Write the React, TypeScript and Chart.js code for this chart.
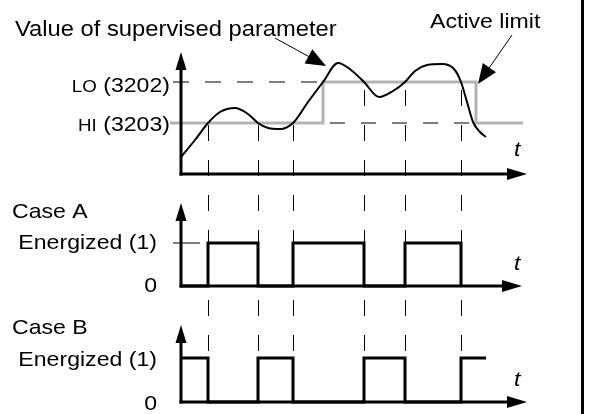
import React, { useEffect, useRef } from "react";
import { Chart, registerables } from "chart.js";

Chart.register(...registerables);

// ---------- data (time in arbitrary units, 0 = origin of the time axes) ----------
const HI_LIMIT = 5.1; // parameter 3203
const LO_LIMIT = 9.2; // parameter 3202

// value of the supervised parameter
const paramT = [0, 1.4, 2.7, 3.9, 5.4, 6.7, 7.7, 8.7, 9.9, 11.2, 12.7, 14.2, 15.7, 17.0, 18.3, 19.8, 21.2, 22.4, 23.4, 24.6, 26.1, 27.3, 28.0, 28.6, 29.2, 29.9, 30.5];
const paramV = [1.7, 3.4, 5.1, 6.2, 6.6, 6.0, 5.1, 4.6, 4.5, 5.1, 7.2, 9.2, 11.1, 10.4, 9.2, 7.7, 8.3, 9.2, 10.3, 10.9, 11.0, 10.5, 9.2, 7.2, 5.2, 4.2, 3.7];

// active limit (grey)
const limitT = [-1.1, 14.2, 14.2, 29.5, 29.5, 34.2];
const limitV = [HI_LIMIT, HI_LIMIT, LO_LIMIT, LO_LIMIT, HI_LIMIT, HI_LIMIT];

// inactive limit (dashed)
const loDashT = [-0.8, 14.2];
const hiDashT = [14.2, 29.5];

// instants where the relay output changes
const switchT = [2.7, 7.7, 11.2, 18.3, 22.4, 28.0];

// relay output, case A and case B (0 / 1)
const caseAT = [0, 2.7, 7.7, 11.2, 18.3, 22.4, 28.0];
const caseAV = [0, 1, 0, 1, 0, 1, 0];
const caseBT = [0, 2.7, 7.7, 11.2, 18.3, 22.4, 28.0, 30.5];
const caseBV = [1, 0, 1, 0, 1, 0, 1, 1];
const caseAMarkT = [-0.8, 1.9];

// axis extents
const topAxisEnd = { t: 34.6, v: 12.2 };
const caseAAxisEnd = { t: 34.1, v: 1.93 };
const caseBAxisEnd = { t: 34.6, v: 1.75 };

// call-out arrows
const valueArrow = { from: [9.4, 13.6], to: [14.5, 10.8] };
const limitArrow = { from: [33.1, 13.9], to: [29.7, 9.0] };

// ---------- helpers ----------
const FONT = '"Liberation Sans", Arial, Helvetica, sans-serif';
const SX = 1.1;

const pts = (xs: number[], ys: number[]) => xs.map((x, i) => ({ x, y: ys[i] }));

function drawText(ctx: CanvasRenderingContext2D, s: string, x: number, y: number, size: number, align: CanvasTextAlign, italic = false) {
  ctx.save();
  ctx.font = `${italic ? "italic " : ""}${size}px ${FONT}`;
  ctx.fillStyle = "#000";
  ctx.textAlign = align;
  ctx.textBaseline = "alphabetic";
  ctx.translate(x, y);
  ctx.scale(SX, 1);
  ctx.fillText(s, 0, 0);
  ctx.restore();
}
function textW(ctx: CanvasRenderingContext2D, s: string, size: number) {
  ctx.save();
  ctx.font = `${size}px ${FONT}`;
  const w = ctx.measureText(s).width * SX;
  ctx.restore();
  return w;
}
function arrow(ctx: CanvasRenderingContext2D, x0: number, y0: number, x1: number, y1: number, width: number, len: number, half: number) {
  const a = Math.atan2(y1 - y0, x1 - x0);
  const bx = x1 - len * Math.cos(a);
  const by = y1 - len * Math.sin(a);
  const px = -Math.sin(a) * half;
  const py = Math.cos(a) * half;
  ctx.save();
  ctx.strokeStyle = "#000";
  ctx.fillStyle = "#000";
  ctx.lineWidth = width;
  ctx.lineCap = "butt";
  ctx.beginPath();
  ctx.moveTo(x0, y0);
  ctx.lineTo(bx + Math.cos(a), by + Math.sin(a));
  ctx.stroke();
  ctx.beginPath();
  ctx.moveTo(x1, y1);
  ctx.lineTo(bx + px, by + py);
  ctx.lineTo(bx - px, by - py);
  ctx.closePath();
  ctx.fill();
  ctx.restore();
}
function activeLimitAt(t: number) {
  let v = limitV[0];
  for (let i = 0; i < limitT.length; i++) if (limitT[i] <= t) v = limitV[i];
  return v;
}

const diagramPlugin = {
  id: "diagram",
  beforeDatasetsDraw(chart: any) {
    const ctx: CanvasRenderingContext2D = chart.ctx;
    const x = chart.scales.x, yv = chart.scales.yv, yb = chart.scales.yb;
    ctx.save();
    ctx.strokeStyle = "#000";
    ctx.lineWidth = 1;
    ctx.setLineDash([16, 19]);
    ctx.lineDashOffset = 28;
    switchT.forEach((t) => {
      const px = Math.round(x.getPixelForValue(t)) + 0.5;
      ctx.beginPath();
      ctx.moveTo(px, yb.getPixelForValue(1));
      ctx.lineTo(px, yv.getPixelForValue(activeLimitAt(t)));
      ctx.stroke();
    });
    ctx.restore();
  },
  afterDatasetsDraw(chart: any) {
    const ctx: CanvasRenderingContext2D = chart.ctx;
    const x = chart.scales.x;
    const panels = [
      { s: chart.scales.yv, end: topAxisEnd },
      { s: chart.scales.ya, end: caseAAxisEnd },
      { s: chart.scales.yb, end: caseBAxisEnd },
    ];
    panels.forEach(({ s, end }) => {
      const ox = x.getPixelForValue(0);
      const oy = s.getPixelForValue(0);
      arrow(ctx, ox, oy + 1.5, ox, s.getPixelForValue(end.v), 3, 18, 5.5);
      arrow(ctx, ox - 1.5, oy, x.getPixelForValue(end.t), oy, 3, 20, 6);
    });

    const yv = chart.scales.yv, ya = chart.scales.ya, yb = chart.scales.yb;
    // call-outs
    arrow(ctx, x.getPixelForValue(valueArrow.from[0]), yv.getPixelForValue(valueArrow.from[1]), x.getPixelForValue(valueArrow.to[0]), yv.getPixelForValue(valueArrow.to[1]), 1, 20, 8);
    arrow(ctx, x.getPixelForValue(limitArrow.from[0]), yv.getPixelForValue(limitArrow.from[1]), x.getPixelForValue(limitArrow.to[0]), yv.getPixelForValue(limitArrow.to[1]), 1, 20, 8);

    // texts
    drawText(ctx, "Value of supervised parameter", 15, 36, 21.6, "left");
    drawText(ctx, "Active limit", 430, 28, 21, "left");

    const rx = x.getPixelForValue(-1.1);
    const loY = yv.getPixelForValue(LO_LIMIT) + 10;
    const hiY = yv.getPixelForValue(HI_LIMIT) + 8;
    const w1 = textW(ctx, " (3202)", 21);
    drawText(ctx, " (3202)", rx, loY, 21, "right");
    drawText(ctx, "LO", rx - w1, loY, 17, "right");
    const w2 = textW(ctx, " (3203)", 21);
    drawText(ctx, " (3203)", rx, hiY, 21, "right");
    drawText(ctx, "HI", rx - w2, hiY, 17, "right");

    const lx = x.getPixelForValue(-2.4);
    drawText(ctx, "Case A", 12, ya.getPixelForValue(1) - 25, 21, "left");
    drawText(ctx, "Energized (1)", lx, ya.getPixelForValue(1) + 6, 21, "right");
    drawText(ctx, "0", lx, ya.getPixelForValue(0) + 6, 21, "right");
    drawText(ctx, "Case B", 12, yb.getPixelForValue(1) - 24, 21, "left");
    drawText(ctx, "Energized (1)", lx, yb.getPixelForValue(1) + 8, 21, "right");
    drawText(ctx, "0", lx, yb.getPixelForValue(0) + 8, 21, "right");

    const tx = x.getPixelForValue(33.3);
    drawText(ctx, "t", tx, yv.getPixelForValue(0) - 18, 21, "left", true);
    drawText(ctx, "t", tx, ya.getPixelForValue(0) - 16, 21, "left", true);
    drawText(ctx, "t", tx, yb.getPixelForValue(0) - 16, 21, "left", true);

    // right frame line
    ctx.save();
    ctx.fillStyle = "#000";
    ctx.fillRect(chart.width - 8, 0, 3, chart.height);
    ctx.restore();
  },
};

export default function App() {
  const ref = useRef<HTMLCanvasElement>(null);
  useEffect(() => {
    const chart = new Chart(ref.current as HTMLCanvasElement, {
      type: "line",
      data: {
        datasets: [
          { data: pts(paramT, paramV), yAxisID: "yv", borderColor: "#000", borderWidth: 2, cubicInterpolationMode: "monotone", pointRadius: 0 },
          { data: pts(limitT, limitV), yAxisID: "yv", borderColor: "#b3b3b3", borderWidth: 3, tension: 0, pointRadius: 0, borderJoinStyle: "miter" },
          { data: pts(loDashT, [LO_LIMIT, LO_LIMIT]), yAxisID: "yv", borderColor: "#000", borderWidth: 1, borderDash: [16, 16], pointRadius: 0 },
          { data: pts(hiDashT, [HI_LIMIT, HI_LIMIT]), yAxisID: "yv", borderColor: "#000", borderWidth: 1, borderDash: [15, 16], borderDashOffset: 24, pointRadius: 0 },
          { data: pts(caseAT, caseAV), yAxisID: "ya", borderColor: "#000", borderWidth: 3, stepped: true, pointRadius: 0, borderJoinStyle: "miter" },
          { data: pts(caseAMarkT, [1, 1]), yAxisID: "ya", borderColor: "#000", borderWidth: 1, pointRadius: 0 },
          { data: pts(caseBT, caseBV), yAxisID: "yb", borderColor: "#000", borderWidth: 3, stepped: true, pointRadius: 0, borderJoinStyle: "miter" },
        ] as any,
      },
      options: {
        animation: false,
        responsive: false,
        events: [],
        layout: { padding: 0 },
        plugins: { legend: { display: false }, tooltip: { enabled: false }, title: { display: false } },
        scales: {
          x: { type: "linear", display: false, min: -18.1, max: 40.8 },
          yv: { type: "linear", display: false, min: -24, max: 17.4 },
          ya: { type: "linear", display: false, min: -2.977, max: 6.651 },
          yb: { type: "linear", display: false, min: -0.273, max: 9.136 },
        },
      } as any,
      plugins: [diagramPlugin],
    });
    return () => chart.destroy();
  }, []);
  return (
    <div style={{ position: "fixed", left: 0, top: 0, width: 589, height: 414, background: "#fff" }}>
      <canvas ref={ref} width={589} height={414} style={{ display: "block", width: 589, height: 414 }} />
    </div>
  );
}
